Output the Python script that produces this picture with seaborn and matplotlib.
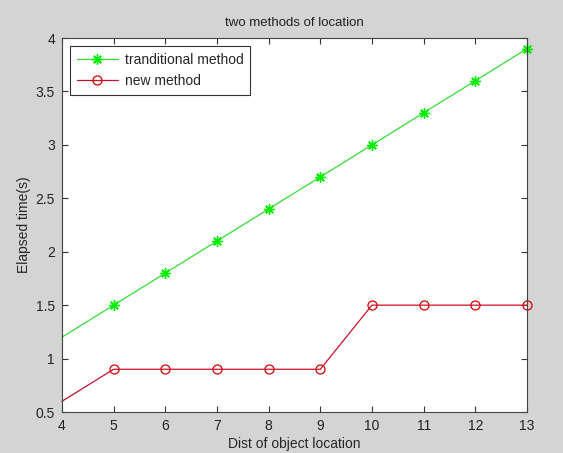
import pandas as pd
import matplotlib
matplotlib.use("Agg")
import matplotlib.pyplot as plt
import seaborn as sns

# values
dist = [4, 5, 6, 7, 8, 9, 10, 11, 12, 13]
traditional = [1.2, 1.5, 1.8, 2.1, 2.4, 2.7, 3.0, 3.3, 3.6, 3.9]
new_method = [0.6, 0.9, 0.9, 0.9, 0.9, 0.9, 1.5, 1.5, 1.5, 1.5]

df = pd.DataFrame({"dist": dist, "traditional": traditional, "new": new_method})

sns.set_style("ticks")
plt.rcParams['font.family'] = ['Liberation Sans', 'DejaVu Sans']
plt.rcParams['font.size'] = 10

fig = plt.figure(figsize=(5.63, 4.53), dpi=100)
fig.set_facecolor('#d4d4d4')
ax = fig.add_axes([0.110, 0.0905, 0.826, 0.8255])
ax.set_facecolor('white')

# MATLAB-like asterisk (8 arms)
sns.lineplot(data=df, x="dist", y="traditional", ax=ax, color='#33dd33', lw=0.9,
             marker=(8, 2, 0), markersize=7.5, markevery=slice(1, None), clip_on=False,
             markeredgewidth=1.0, markeredgecolor='#00ee00',
             label="tranditional method")
sns.lineplot(data=df, x="dist", y="new", ax=ax, color='#c8102e', lw=0.9,
             marker='o', markersize=6.5, markevery=slice(1, None), clip_on=False,
             markerfacecolor='none', markeredgecolor='#dd0000', markeredgewidth=0.9,
             label="new method")

ax.set_xlim(4, 13)
ax.set_ylim(0.5, 4)
ax.set_xticks(range(4, 14))
ax.set_yticks([0.5, 1, 1.5, 2, 2.5, 3, 3.5, 4])
ax.set_yticklabels(["0.5", "1", "1.5", "2", "2.5", "3", "3.5", "4"])
ax.tick_params(direction='in', top=True, right=True, length=4, width=0.8, pad=5,
               colors='#333333', labelcolor='#222222', labelsize=10)
for s in ax.spines.values():
    s.set_color('#444444')
    s.set_linewidth(0.8)

ax.set_title("two methods of location", fontsize=9.5, color='#222222', pad=9)
ax.set_xlabel("Dist of object location", fontsize=10, labelpad=3)
ax.set_ylabel("Elapsed time(s)", fontsize=10, labelpad=3)

leg = ax.legend(loc='upper left', frameon=True, fancybox=False, fontsize=10,
                handlelength=3.0, borderaxespad=0.6, labelspacing=0.55,
                borderpad=0.45, handletextpad=0.5)
leg.get_frame().set_edgecolor('black')
leg.get_frame().set_linewidth(0.8)

fig.savefig("out.png", dpi=100, facecolor=fig.get_facecolor())
